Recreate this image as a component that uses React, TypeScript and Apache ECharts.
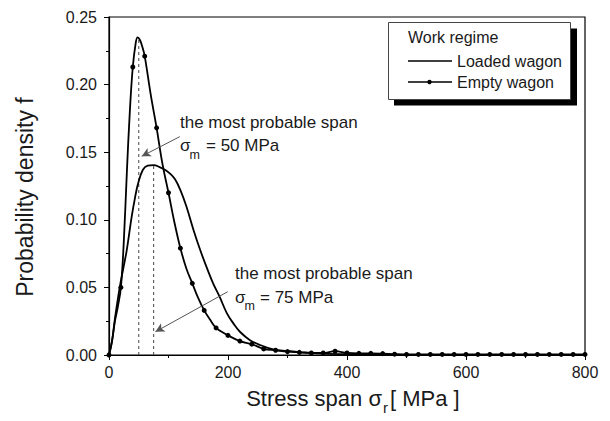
import React, { useEffect, useRef } from "react";
import * as echarts from "echarts";

// Empty wagon curve (stress span, density)
const emptyX = [0, 5, 10, 15, 20, 25, 30, 35, 40, 45, 48, 52, 56, 60, 70, 80, 90, 100, 110, 120, 130, 140, 150, 160, 170, 180, 190, 200, 220, 240, 260, 280, 300, 320, 340, 360, 380, 400, 420, 440, 460, 480, 500, 520, 540, 560, 580, 600, 620, 640, 660, 680, 700, 720, 740, 760, 780, 800];
const emptyF = [0, 0.010, 0.025, 0.036, 0.050, 0.085, 0.135, 0.180, 0.213, 0.231, 0.235, 0.233, 0.228, 0.221, 0.193, 0.168, 0.141, 0.120, 0.098, 0.079, 0.064, 0.053, 0.042, 0.033, 0.026, 0.020, 0.017, 0.0145, 0.0103, 0.008, 0.0045, 0.0035, 0.0025, 0.002, 0.0015, 0.0015, 0.0028, 0.0015, 0.0012, 0.0012, 0.001, 0.0006, 0.0004, 0.0004, 0.0004, 0.0004, 0.0004, 0.0004, 0.0004, 0.0004, 0.0004, 0.0004, 0.0004, 0.0004, 0.0004, 0.0004, 0.0004, 0.0004];

// Loaded wagon curve
const loadedX = [0, 5, 10, 18, 24, 30, 38, 44, 49, 57, 65, 75, 85, 94, 103, 111, 120, 130, 142, 153, 164, 175, 186, 198, 209, 220, 237, 254, 276, 300, 320, 350, 400, 450, 500, 600, 800];
const loadedF = [0, 0.010, 0.027, 0.050, 0.064, 0.078, 0.102, 0.117, 0.127, 0.137, 0.140, 0.1405, 0.139, 0.137, 0.134, 0.130, 0.122, 0.110, 0.0925, 0.078, 0.065, 0.053, 0.043, 0.031, 0.0234, 0.0172, 0.011, 0.0074, 0.0042, 0.003, 0.0022, 0.0012, 0.0006, 0.0003, 0.0001, 0, 0];

// Most probable spans
const peakEmpty = [50, 0.234];
const peakLoaded = [75, 0.1405];
const arrow1 = [[119, 0.1615], [55, 0.147]];
const arrow2 = [[199.5, 0.0468], [78, 0.0172]];

const xRange = [0, 800, 200];
const yRange = [0, 0.25, 0.05];

const legendTitle = "Work regime";
const legendNames = ["Loaded wagon", "Empty wagon"];
const annoTitle = "the most probable span";
const anno1Value = "= 50 MPa";
const anno2Value = "= 75 MPa";
const xTitle = ["Stress span σ", "r", "[ MPa ]"];
const yTitle = "Probability density f";

const FONT = "'Liberation Sans', Arial, Helvetica, sans-serif";
const TXT = "#1a1a1a";

function txt(x: number, y: number, text: string, size: number, align = "left", extra: any = {}) {
  return {
    type: "text",
    x,
    y,
    z: 100,
    ...extra,
    style: {
      text,
      fill: TXT,
      fontSize: size,
      fontFamily: FONT,
      textAlign: align,
      align,
      textVerticalAlign: "middle",
      verticalAlign: "middle",
    },
  };
}

export default function App() {
  const ref = useRef<HTMLDivElement>(null);
  useEffect(() => {
    if (!ref.current) return;
    const chart = echarts.init(ref.current, undefined, { renderer: "svg" });
    const axisCommon = {
      type: "value",
      axisLine: { show: true, onZero: false, lineStyle: { color: "#000", width: 1.2 } },
      axisTick: { show: true, inside: false, length: 5, lineStyle: { color: "#000", width: 1 } },
      minorTick: { show: true, splitNumber: 2, length: 3, lineStyle: { color: "#000", width: 1 } },
      splitLine: { show: false },
      minorSplitLine: { show: false },
    };
    const emptyData = emptyX.map((x, i) => ({
      value: [x, emptyF[i]],
      symbol: x % 20 === 0 ? "circle" : "none",
    }));
    const loadedData = loadedX.map((x, i) => [x, loadedF[i]]);
    const dashed = { color: "#555", width: 1.1, type: [3, 3] };
    const option: any = {
      animation: false,
      grid: { left: 109, right: 25, top: 17, bottom: 66, show: true, borderColor: "#000", borderWidth: 1.2 },
      xAxis: {
        ...axisCommon,
        min: xRange[0],
        max: xRange[1],
        interval: xRange[2],
        axisLabel: { color: TXT, fontSize: 16, fontFamily: FONT, margin: 9 },
      },
      yAxis: {
        ...axisCommon,
        min: yRange[0],
        max: yRange[1],
        interval: yRange[2],
        axisLabel: {
          color: TXT,
          fontSize: 16,
          fontFamily: FONT,
          margin: 12,
          formatter: (v: number) => v.toFixed(2),
        },
      },
      series: [
        {
          type: "line",
          name: legendNames[0],
          data: loadedData,
          smooth: 0.4,
          showSymbol: false,
          lineStyle: { color: "#000", width: 1.8 },
          itemStyle: { color: "#000" },
          z: 3,
        },
        {
          type: "line",
          name: legendNames[1],
          data: emptyData,
          smooth: 0.4,
          showSymbol: true,
          showAllSymbol: true,
          symbolSize: 5,
          lineStyle: { color: "#000", width: 1.8 },
          itemStyle: { color: "#000" },
          z: 3,
        },
        {
          type: "line",
          data: [[peakEmpty[0], 0], peakEmpty],
          showSymbol: false,
          lineStyle: dashed,
          z: 2,
          silent: true,
        },
        {
          type: "line",
          data: [[peakLoaded[0], 0], peakLoaded],
          showSymbol: false,
          lineStyle: dashed,
          z: 2,
          silent: true,
          markLine: {
            silent: true,
            symbol: ["none", "arrow"],
            symbolSize: [7, 9],
            label: { show: false },
            lineStyle: { color: "#555", width: 1, type: "solid" },
            data: [
              [{ coord: arrow1[0] }, { coord: arrow1[1] }],
              [{ coord: arrow2[0] }, { coord: arrow2[1] }],
            ],
          },
        },
      ],
      graphic: [
        // legend
        { type: "rect", z: 98, shape: { x: 394, y: 28.5, width: 183, height: 77 }, style: { fill: "#000" } },
        { type: "rect", z: 99, shape: { x: 388.5, y: 22.5, width: 182, height: 77 }, style: { fill: "#fff", stroke: "#444", lineWidth: 1 } },
        txt(408, 37.5, legendTitle, 16),
        { type: "line", z: 100, shape: { x1: 408, y1: 61, x2: 452, y2: 61 }, style: { stroke: "#000", lineWidth: 1.5 } },
        txt(457, 61, legendNames[0], 16),
        { type: "line", z: 100, shape: { x1: 408, y1: 82, x2: 452, y2: 82 }, style: { stroke: "#000", lineWidth: 1.5 } },
        { type: "circle", z: 100, shape: { cx: 429.5, cy: 82, r: 2.2 }, style: { fill: "#000" } },
        txt(457, 82, legendNames[1], 16),
        // annotation 1
        txt(180, 122, annoTitle, 17),
        txt(180, 145, "σ", 17),
        txt(189.5, 155, "m", 12.5),
        txt(206, 145, anno1Value, 17),
        // annotation 2
        txt(235, 273, annoTitle, 17),
        txt(235, 297, "σ", 17),
        txt(244.5, 306, "m", 12.5),
        txt(260, 297, anno2Value, 17),
        // axis titles
        txt(382, 398, xTitle[0], 22, "right"),
        txt(383, 407, xTitle[1], 15),
        txt(390, 398, xTitle[2], 22),
        txt(25, 197, yTitle, 23, "center", { rotation: Math.PI / 2 }),
      ],
    };
    chart.setOption(option);
    return () => chart.dispose();
  }, []);
  return (
    <div
      ref={ref}
      style={{ position: "fixed", left: 0, top: 0, width: 610, height: 421, background: "#fff" }}
    />
  );
}
